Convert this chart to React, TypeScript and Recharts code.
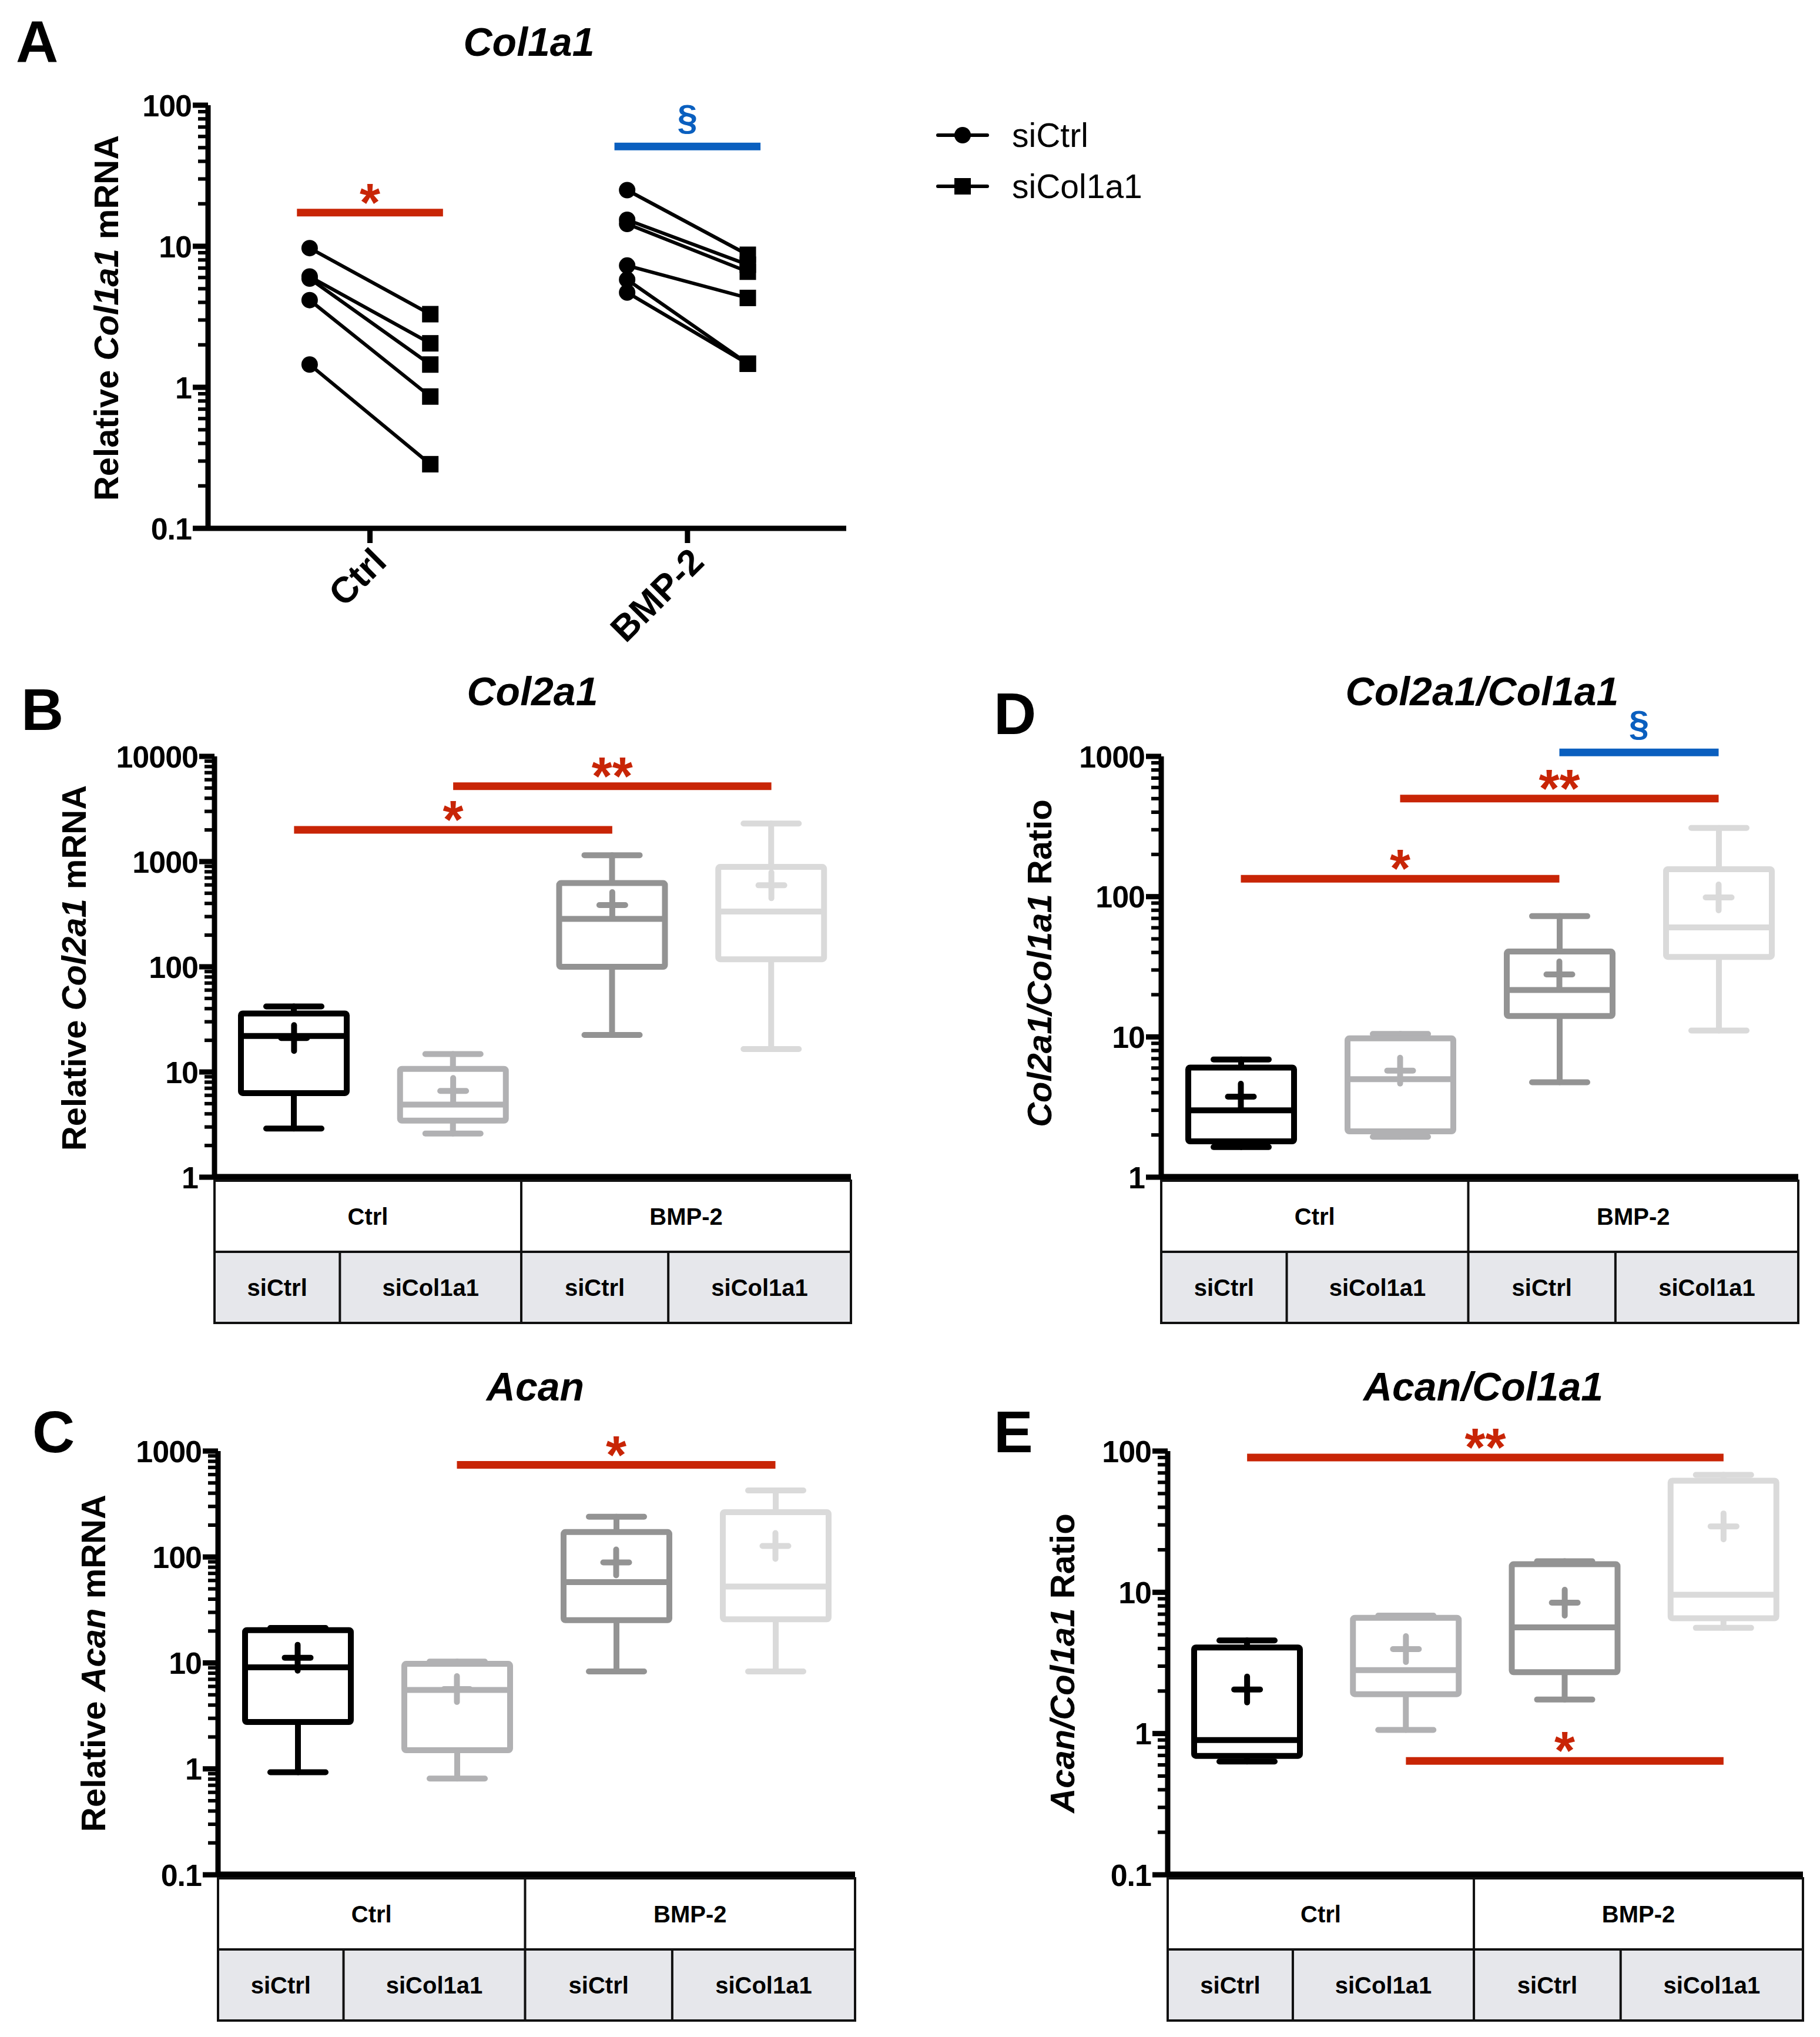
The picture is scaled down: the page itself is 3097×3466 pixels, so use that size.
import React from 'react';
import {
  ComposedChart,
  ScatterChart,
  Scatter,
  Bar,
  Line,
  XAxis,
  YAxis,
  ReferenceLine,
} from 'recharts';

const FONT = '"Liberation Sans", Arial, Helvetica, sans-serif';
const RED = '#c82506';
const BLUE = '#0a5fbf';

// ---- panel A: paired values (siCtrl -> siCol1a1) ----
const treatments = ['Ctrl', 'BMP-2'];
const legendNames = ['siCtrl', 'siCol1a1'];
const ctrlSiCtrl = [9.7, 6.1, 5.9, 4.15, 1.45];
const ctrlSiCol1a1 = [3.3, 2.05, 1.45, 0.86, 0.285];
const bmpSiCtrl = [25, 15.4, 14.4, 7.3, 5.8, 4.7];
const bmpSiCol1a1 = [8.7, 7.4, 6.6, 4.3, 1.47, 1.47];

// ---- box plot groups ----
const groups = ['Ctrl siCtrl', 'Ctrl siCol1a1', 'BMP-2 siCtrl', 'BMP-2 siCol1a1'];
const groupColors = ['#000000', '#b1b1b3', '#939393', '#dadada'];

// Col2a1
const col2a1Min = [2.9, 2.6, 22.5, 16.5];
const col2a1Q1 = [6.3, 3.45, 100, 118];
const col2a1Median = [22, 4.9, 285, 335];
const col2a1Q3 = [36, 10.7, 625, 890];
const col2a1Max = [42, 14.8, 1150, 2300];
const col2a1Mean = [21, 6.6, 386, 595];

// Col2a1/Col1a1
const ratio2Min = [1.64, 1.94, 4.75, 11.1];
const ratio2Q1 = [1.8, 2.12, 14.1, 37.2];
const ratio2Median = [3.0, 5.0, 21.6, 60.4];
const ratio2Q3 = [6.05, 9.76, 40.6, 157];
const ratio2Max = [6.9, 10.5, 72.6, 309];
const ratio2Mean = [3.75, 5.75, 27.9, 98.8];

// Acan
const acanMin = [0.93, 0.81, 8.3, 8.3];
const acanQ1 = [2.77, 1.5, 25.3, 25.8];
const acanMedian = [9.1, 5.55, 57.9, 52.7];
const acanQ3 = [20.4, 9.8, 172, 265];
const acanMax = [21.4, 10.3, 240, 425];
const acanMean = [11.2, 5.67, 88.8, 127];

// Acan/Col1a1
const ratioAMin = [0.634, 1.06, 1.74, 5.6];
const ratioAQ1 = [0.695, 1.9, 2.72, 6.55];
const ratioAMedian = [0.9, 2.81, 5.64, 9.6];
const ratioAQ3 = [4.07, 6.6, 15.8, 61.7];
const ratioAMax = [4.56, 6.84, 16.6, 67.8];
const ratioAMean = [2.05, 3.96, 8.45, 29.3];

// significance bars: [from, to, y, label]
const col2a1Sig = [[0, 2, 2000, '*'], [1, 3, 5200, '**']];
const ratio2Sig = [[0, 2, 134, '*'], [1, 3, 500, '**'], [2, 3, 1067, '§']];
const acanSig = [[1, 3, 740, '*']];
const ratioASig = [[0, 3, 90, '**'], [1, 3, 0.64, '*']];
const col1a1Sig = [[1, 17.3, '*'], [2, 51, '§']];

const logTicks = (lo: number, hi: number) => {
  const out: number[] = [];
  for (let e = Math.round(Math.log10(lo)); e < Math.round(Math.log10(hi)); e++) {
    for (let m = 1; m <= 9; m++) out.push(Number((m * Math.pow(10, e)).toPrecision(2)));
  }
  out.push(hi);
  return out;
};

const isDecade = (v: number) => Math.abs(Math.log10(v) - Math.round(Math.log10(v))) < 1e-6;

const LogTick = (props: any) => {
  const { x, y, payload } = props;
  const v = payload.value;
  const major = isDecade(v);
  return (
    <g>
      <line x1={x - (major ? 26 : 17)} x2={x} y1={y} y2={y} stroke="#000" strokeWidth={major ? 9 : 6} />
      {major && (
        <text x={x - 28} y={y} dy="0.36em" textAnchor="end" fontSize={52} fontWeight="bold"
          fontFamily={FONT} letterSpacing={-1} fill="#000">
          {String(v)}
        </text>
      )}
    </g>
  );
};

const RotTick = (props: any) => {
  const { x, y, payload } = props;
  const ax = x + 16;
  const ay = y + 12;
  return (
    <text x={ax} y={ay} dy="0.35em" textAnchor="end" transform={`rotate(-45 ${ax} ${ay})`}
      fontSize={62} fontWeight="bold" fontFamily={FONT} fill="#000">
      {treatments[payload.value - 1]}
    </text>
  );
};

const sigLabel = (text: string, color: string) => (props: any) => {
  const vb = props.viewBox;
  const cx = vb.x + vb.width / 2;
  const isSect = text === '§';
  return (
    <text x={cx} y={vb.y + (isSect ? -28 : 14)} textAnchor="middle" fill={color}
      fontSize={isSect ? 62 : 90} fontWeight="bold" fontFamily={FONT}>
      {text}
    </text>
  );
};

const WhiskerShape = (p: any) => {
  const top = Math.min(p.y, p.y + p.height);
  const bot = Math.max(p.y, p.y + p.height);
  const cx = p.x + p.width / 2;
  const c = p.payload.color;
  return (
    <g stroke={c} strokeWidth={10} strokeLinecap="round">
      <line x1={cx} x2={cx} y1={top} y2={bot} />
      <line x1={p.x} x2={p.x + p.width} y1={top} y2={top} />
      <line x1={p.x} x2={p.x + p.width} y1={bot} y2={bot} />
    </g>
  );
};

const BoxShape = (p: any) => {
  const top = Math.min(p.y, p.y + p.height);
  const h = Math.abs(p.height);
  return (
    <rect x={p.x} y={top} width={p.width} height={h} fill="#fff" stroke={p.payload.color}
      strokeWidth={10} rx={3} />
  );
};

const BOX_W = 180;

const MedianDot = (p: any) => (
  <line key={`md${p.index}`} x1={p.cx - BOX_W / 2} x2={p.cx + BOX_W / 2} y1={p.cy} y2={p.cy}
    stroke={p.payload.color} strokeWidth={10} />
);

const MeanDot = (p: any) => (
  <g key={`mn${p.index}`} stroke={p.payload.color} strokeWidth={10} strokeLinecap="round">
    <line x1={p.cx - 22} x2={p.cx + 22} y1={p.cy} y2={p.cy} />
    <line x1={p.cx} x2={p.cx} y1={p.cy - 22} y2={p.cy + 22} />
  </g>
);

type Plot = { left: number; top: number; right: number; bottom: number };

const YW = 300;
const MT = 200;
const MB = 50;

const BoxPanel = ({ plot, domain, min, q1, median, q3, max, mean, sig }: any) => {
  const data = groups.map((g, i) => ({
    name: g,
    color: groupColors[i],
    whisker: [min[i], max[i]],
    box: [q1[i], q3[i]],
    median: median[i],
    mean: mean[i],
  }));
  const w = YW + (plot.right - plot.left) + 30;
  const h = MT + (plot.bottom - plot.top) + 1 + MB;
  return (
    <div style={{ position: 'absolute', left: plot.left - YW, top: plot.top - MT }}>
      <ComposedChart width={w} height={h} data={data} margin={{ top: MT, right: 30, bottom: MB, left: 0 }}>
        <XAxis dataKey="name" type="category" height={1} tick={false} tickLine={false}
          axisLine={{ stroke: '#000', strokeWidth: 11 }} />
        <XAxis xAxisId="box" dataKey="name" type="category" hide />
        <YAxis width={YW} scale="log" type="number" domain={domain} allowDataOverflow
          ticks={logTicks(domain[0], domain[1])} interval={0} tickSize={0} tickMargin={0}
          tickLine={false} tick={<LogTick />} axisLine={{ stroke: '#000', strokeWidth: 9 }} />
        <Bar dataKey="whisker" barSize={94} shape={WhiskerShape} isAnimationActive={false} />
        <Bar dataKey="box" xAxisId="box" barSize={BOX_W} shape={BoxShape} isAnimationActive={false} />
        <Line dataKey="median" stroke="none" dot={MedianDot} activeDot={false} isAnimationActive={false} />
        <Line dataKey="mean" stroke="none" dot={MeanDot} activeDot={false} isAnimationActive={false} />
        {sig.map((s: any, i: number) => {
          const color = s[3] === '§' ? BLUE : RED;
          return (
            <ReferenceLine key={i} ifOverflow="visible" stroke={color} strokeWidth={13}
              segment={[{ x: groups[s[0]], y: s[2] }, { x: groups[s[1]], y: s[2] }]}
              label={sigLabel(s[3], color)} />
          );
        })}
      </ComposedChart>
    </div>
  );
};

const PanelA = () => {
  const plot: Plot = { left: 354, top: 179, right: 1440, bottom: 899 };
  const off = 0.19;
  const pairs: any[] = [];
  [[ctrlSiCtrl, ctrlSiCol1a1], [bmpSiCtrl, bmpSiCol1a1]].forEach(([a, b], gi) => {
    a.forEach((v, i) => {
      pairs.push([
        { x: gi + 1 - off, y: v, kind: 'circle' },
        { x: gi + 1 + off, y: b[i], kind: 'square' },
      ]);
    });
  });
  const XH = 300;
  const top = 100;
  const w = YW + (plot.right - plot.left) + 30;
  const h = top + (plot.bottom - plot.top) + XH;
  const marker = (p: any) =>
    p.payload.kind === 'circle' ? (
      <circle cx={p.cx} cy={p.cy} r={14} fill="#000" />
    ) : (
      <rect x={p.cx - 14} y={p.cy - 14} width={28} height={28} fill="#000" />
    );
  return (
    <div style={{ position: 'absolute', left: plot.left - YW, top: plot.top - top }}>
      <ScatterChart width={w} height={h} margin={{ top, right: 30, bottom: 0, left: 0 }}>
        <XAxis type="number" dataKey="x" domain={[0.49, 2.5]} allowDataOverflow ticks={[1, 2]}
          interval={0} height={XH} tickSize={25} tickMargin={8} tick={<RotTick />}
          axisLine={{ stroke: '#000', strokeWidth: 9 }} tickLine={{ stroke: '#000', strokeWidth: 9 }} />
        <YAxis type="number" dataKey="y" width={YW} scale="log" domain={[0.1, 100]} allowDataOverflow
          ticks={logTicks(0.1, 100)} interval={0} tickSize={0} tickMargin={0} tickLine={false}
          tick={<LogTick />} axisLine={{ stroke: '#000', strokeWidth: 9 }} />
        {pairs.map((pts, i) => (
          <Scatter key={i} data={pts} dataKey="y" line={{ stroke: '#000', strokeWidth: 6 }}
            lineType="joint" shape={marker} isAnimationActive={false} />
        ))}
        {col1a1Sig.map((s: any, i) => {
          const color = s[2] === '§' ? BLUE : RED;
          return (
            <ReferenceLine key={i} ifOverflow="visible" stroke={color} strokeWidth={13}
              segment={[{ x: s[0] - 0.23, y: s[1] }, { x: s[0] + 0.23, y: s[1] }]}
              label={sigLabel(s[2], color)} />
          );
        })}
      </ScatterChart>
    </div>
  );
};

const Table = ({ plot }: { plot: Plot }) => {
  const fr = [0, 0.197, 0.482, 0.713, 1];
  const W = plot.right - plot.left;
  const xs = fr.map((f) => plot.left + f * W);
  const y0 = plot.bottom + 6;
  const rh = 121;
  const y1 = y0 + rh;
  const y2 = y1 + rh;
  const sub = [legendNames[0], legendNames[1], legendNames[0], legendNames[1]];
  const ts = { fontSize: 40, fontWeight: 'bold' as const, fontFamily: FONT, fill: '#000' };
  return (
    <g>
      <rect x={plot.left} y={y0} width={W} height={rh} fill="#fff" />
      <rect x={plot.left} y={y1} width={W} height={rh} fill="#e6e7eb" />
      <g stroke="#111" strokeWidth={4} fill="none">
        <rect x={plot.left} y={y0} width={W} height={rh * 2} />
        <line x1={plot.left} x2={plot.right} y1={y1} y2={y1} />
        <line x1={xs[2]} x2={xs[2]} y1={y0} y2={y2} />
        <line x1={xs[1]} x2={xs[1]} y1={y1} y2={y2} />
        <line x1={xs[3]} x2={xs[3]} y1={y1} y2={y2} />
      </g>
      <text x={(xs[0] + xs[2]) / 2} y={y0 + rh / 2} dy="0.35em" textAnchor="middle" {...ts}>{treatments[0]}</text>
      <text x={(xs[2] + xs[4]) / 2} y={y0 + rh / 2} dy="0.35em" textAnchor="middle" {...ts}>{treatments[1]}</text>
      {sub.map((s, i) => (
        <text key={i} x={(xs[i] + xs[i + 1]) / 2} y={y1 + rh / 2} dy="0.35em" textAnchor="middle" {...ts}>{s}</text>
      ))}
    </g>
  );
};

const YLabel = ({ x, y, parts }: { x: number; y: number; parts: [string, boolean][] }) => (
  <text x={x} y={y} dy="0.35em" textAnchor="middle" transform={`rotate(-90 ${x} ${y})`}
    fontSize={58} fontWeight="bold" fontFamily={FONT} fill="#000">
    {parts.map(([t, it], i) => (
      <tspan key={i} fontStyle={it ? 'italic' : 'normal'}>{t}</tspan>
    ))}
  </text>
);

const Title = ({ x, y, text }: { x: number; y: number; text: string }) => (
  <text x={x} y={y} dy="0.35em" textAnchor="middle" fontSize={68} fontWeight="bold" fontStyle="italic"
    fontFamily={FONT} fill="#000">
    {text}
  </text>
);

const Letter = ({ x, y, text }: { x: number; y: number; text: string }) => (
  <text x={x} y={y} fontSize={100} fontWeight="bold" fontFamily={FONT} fill="#000">{text}</text>
);

const plotB: Plot = { left: 365, top: 1287, right: 1448, bottom: 2003 };
const plotD: Plot = { left: 1976, top: 1287, right: 3060, bottom: 2003 };
const plotC: Plot = { left: 371, top: 2469, right: 1455, bottom: 3190 };
const plotE: Plot = { left: 1987, top: 2469, right: 3068, bottom: 3190 };

export default function App() {
  return (
    <div style={{ position: 'absolute', left: 0, top: 0, width: 3097, height: 3466, background: '#fff', overflow: 'hidden' }}>
      <PanelA />
      <BoxPanel plot={plotB} domain={[1, 10000]} min={col2a1Min} q1={col2a1Q1} median={col2a1Median}
        q3={col2a1Q3} max={col2a1Max} mean={col2a1Mean} sig={col2a1Sig} />
      <BoxPanel plot={plotD} domain={[1, 1000]} min={ratio2Min} q1={ratio2Q1} median={ratio2Median}
        q3={ratio2Q3} max={ratio2Max} mean={ratio2Mean} sig={ratio2Sig} />
      <BoxPanel plot={plotC} domain={[0.1, 1000]} min={acanMin} q1={acanQ1} median={acanMedian}
        q3={acanQ3} max={acanMax} mean={acanMean} sig={acanSig} />
      <BoxPanel plot={plotE} domain={[0.1, 100]} min={ratioAMin} q1={ratioAQ1} median={ratioAMedian}
        q3={ratioAQ3} max={ratioAMax} mean={ratioAMean} sig={ratioASig} />
      <svg width={3097} height={3466} style={{ position: 'absolute', left: 0, top: 0, pointerEvents: 'none' }}>
        <Letter x={27} y={106} text="A" />
        <Letter x={36} y={1242} text="B" />
        <Letter x={55} y={2471} text="C" />
        <Letter x={1691} y={1249} text="D" />
        <Letter x={1691} y={2471} text="E" />
        <Title x={900} y={71} text="Col1a1" />
        <Title x={906} y={1176} text="Col2a1" />
        <Title x={2522} y={1176} text="Col2a1/Col1a1" />
        <Title x={911} y={2359} text="Acan" />
        <Title x={2524} y={2359} text="Acan/Col1a1" />
        <YLabel x={181} y={541} parts={[['Relative ', false], ['Col1a1', true], [' mRNA', false]]} />
        <YLabel x={126} y={1647} parts={[['Relative ', false], ['Col2a1', true], [' mRNA', false]]} />
        <YLabel x={1769} y={1639} parts={[['Col2a1/Col1a1', true], [' Ratio', false]]} />
        <YLabel x={159} y={2830} parts={[['Relative ', false], ['Acan', true], [' mRNA', false]]} />
        <YLabel x={1808} y={2830} parts={[['Acan/Col1a1', true], [' Ratio', false]]} />
        <Table plot={plotB} />
        <Table plot={plotD} />
        <Table plot={plotC} />
        <Table plot={plotE} />
        {legendNames.map((n, i) => {
          const y = 230 + i * 87;
          return (
            <g key={n}>
              <line x1={1596} x2={1680} y1={y} y2={y} stroke="#000" strokeWidth={6} strokeLinecap="round" />
              {i === 0 ? (
                <circle cx={1638} cy={y} r={14} fill="#000" />
              ) : (
                <rect x={1624} y={y - 14} width={28} height={28} fill="#000" />
              )}
              <text x={1722} y={y} dy="0.35em" fontSize={57} fontFamily={FONT} fill="#000">{n}</text>
            </g>
          );
        })}
      </svg>
    </div>
  );
}
